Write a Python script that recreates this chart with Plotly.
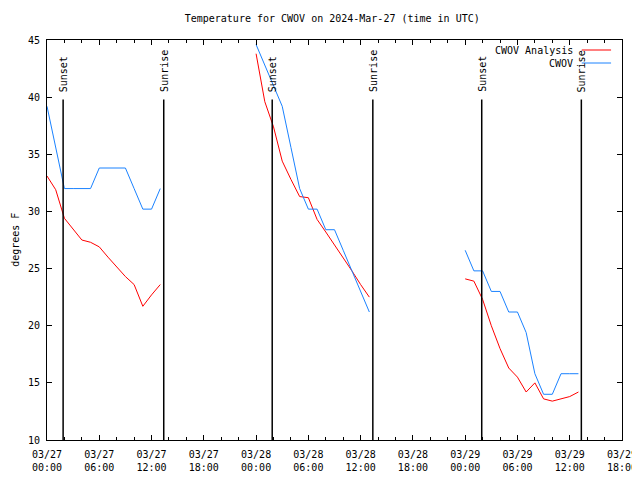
import pandas as pd
import plotly.graph_objects as go

title_text = "Temperature for CWOV on 2024-Mar-27 (time in UTC)"
y_label = "degrees F"
legend_names = ["CWOV Analysis", "CWOV"]

# start of each hourly data segment
segment_starts = ["2024-03-27 00:00", "2024-03-28 00:00", "2024-03-29 00:00"]

# CWOV Analysis (red), hourly values per segment
analysis_seg1 = [33.1, 31.9, 29.4, 28.4, 27.5, 27.3, 26.9, 26.0, 25.1, 24.3, 23.6, 21.7, 22.7, 23.6]
analysis_seg2 = [43.8, 39.6, 37.4, 34.4, 32.8, 31.3, 31.2, 29.3, 28.2, 27.1, 26.0, 24.8, 23.6, 22.5]
analysis_seg3 = [24.1, 23.9, 22.3, 20.0, 18.0, 16.3, 15.5, 14.2, 15.0, 13.6, 13.4, 13.6, 13.8, 14.2]

# CWOV observations (blue), hourly values per segment
obs_seg1 = [39.2, 35.6, 32.0, 32.0, 32.0, 32.0, 33.8, 33.8, 33.8, 33.8, 32.0, 30.2, 30.2, 32.0]
obs_seg2 = [44.6, 42.8, 41.0, 39.2, 35.6, 32.0, 30.2, 30.2, 28.4, 28.4, 26.6, 24.8, 23.0, 21.2]
obs_seg3 = [26.6, 24.8, 24.8, 23.0, 23.0, 21.2, 21.2, 19.4, 15.8, 14.0, 14.0, 15.8, 15.8, 15.8]

sunset_times = ["2024-03-27 01:51", "2024-03-28 01:51", "2024-03-29 01:54"]
sunrise_times = ["2024-03-27 13:24", "2024-03-28 13:24", "2024-03-29 13:20"]

y_tick_values = [10, 15, 20, 25, 30, 35, 40, 45]
x_range = ["2024-03-27 00:00", "2024-03-29 18:00"]
y_range = [10, 45]
marker_line_top = 39.8
marker_label_bottom = 40.35

FONT = "DejaVu Sans Mono"
RED = "#ff0000"
BLUE = "#1a82ff"


def join_segments(starts, segs):
    xs, ys = [], []
    for start, vals in zip(starts, segs):
        times = pd.date_range(start, periods=len(vals), freq="h")
        xs.extend(list(times))
        ys.extend(vals)
        xs.append(None)
        ys.append(None)
    return xs, ys


ax_x, ax_y = join_segments(segment_starts, [analysis_seg1, analysis_seg2, analysis_seg3])
ob_x, ob_y = join_segments(segment_starts, [obs_seg1, obs_seg2, obs_seg3])

fig = go.Figure()
fig.add_trace(go.Scatter(x=ax_x, y=ax_y, mode="lines", name=legend_names[0],
                         line=dict(color=RED, width=1), connectgaps=False))
fig.add_trace(go.Scatter(x=ob_x, y=ob_y, mode="lines", name=legend_names[1],
                         line=dict(color=BLUE, width=1), connectgaps=False))

shapes = []
annotations = []
for label, times in (("Sunset", sunset_times), ("Sunrise", sunrise_times)):
    for t in times:
        shapes.append(dict(type="line", xref="x", yref="y", x0=t, x1=t,
                           y0=y_range[0], y1=marker_line_top,
                           line=dict(color="black", width=1.5)))
        annotations.append(dict(x=t, y=marker_label_bottom, xref="x", yref="y",
                                text=label, textangle=-90, showarrow=False,
                                xanchor="center", yanchor="bottom",
                                font=dict(family=FONT, size=10, color="black"),
                                borderpad=0))

# gnuplot-style legend: text on the left, line sample on the right
legend_rows = [(legend_names[0], RED, 0.975), (legend_names[1], BLUE, 0.9425)]
for name, color, ypos in legend_rows:
    annotations.append(dict(x=0.919, y=ypos, xref="paper", yref="paper",
                            text=name, showarrow=False, xanchor="right",
                            yanchor="middle",
                            font=dict(family=FONT, size=10, color="black")))
    shapes.append(dict(type="line", xref="paper", yref="paper",
                       x0=0.930, x1=0.981, y0=ypos, y1=ypos,
                       line=dict(color=color, width=1)))

annotations.append(dict(x=-0.056, y=0.5, xref="paper", yref="paper",
                        text=y_label, textangle=-90, showarrow=False,
                        xanchor="center", yanchor="middle",
                        font=dict(family=FONT, size=10, color="black")))

fig.update_layout(
    width=632, height=472,
    margin=dict(l=39, r=18, t=32, b=40, autoexpand=False),
    paper_bgcolor="white", plot_bgcolor="white",
    showlegend=False,
    font=dict(family=FONT, size=10, color="black"),
    title=dict(text=title_text, x=0.513, xanchor="center", y=0.977,
               yanchor="middle", font=dict(family=FONT, size=10, color="black")),
    shapes=shapes,
    annotations=annotations,
    xaxis=dict(type="date", range=x_range, showgrid=False, zeroline=False,
               showline=True, linecolor="black", linewidth=1, mirror="ticks",
               ticks="inside", ticklen=5, tickcolor="black",
               dtick=6 * 3600 * 1000, tick0="2024-03-27 00:00",
               tickformat="%m/%d<br>%H:%M", ticklabelstandoff=5,
               minor=dict(dtick=2 * 3600 * 1000, ticks="inside", ticklen=3,
                          tickcolor="black", showgrid=False),
               tickfont=dict(family=FONT, size=10, color="black")),
    yaxis=dict(range=y_range, showgrid=False, zeroline=False,
               showline=True, linecolor="black", linewidth=1, mirror="ticks",
               ticks="inside", ticklen=5, tickcolor="black",
               tickvals=y_tick_values, ticklabelstandoff=4,
               tickfont=dict(family=FONT, size=10, color="black")),
)

fig.write_html("out.html")
